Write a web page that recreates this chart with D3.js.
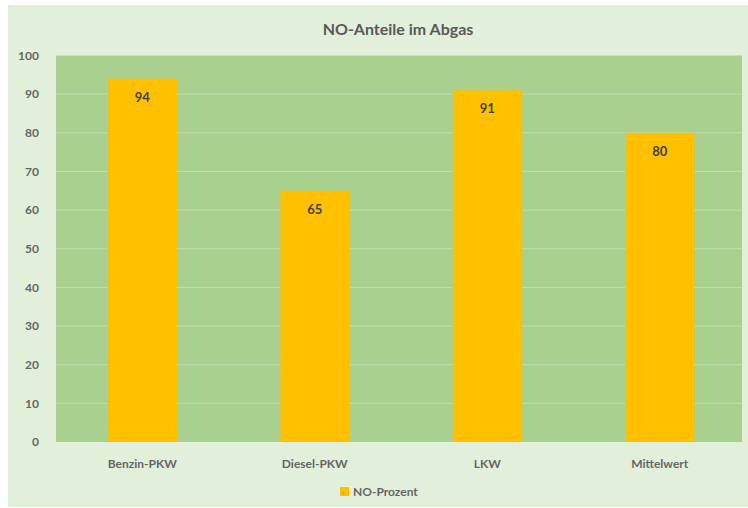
<!DOCTYPE html>
<html><head><meta charset="utf-8">
<script src="https://cdn.jsdelivr.net/npm/d3@7"></script>
<style>html,body{margin:0;padding:0;background:#fff;}svg{display:block;}</style>
</head><body><svg id="c" width="748" height="508"></svg>
<script>
const categories = ["Benzin-PKW", "Diesel-PKW", "LKW", "Mittelwert"];
const values = [94, 65, 91, 80];
const yTicks = [0, 10, 20, 30, 40, 50, 60, 70, 80, 90, 100];
const seriesName = "NO-Prozent";
const title = "NO-Anteile im Abgas";

const svg = d3.select("#c");
const font = "Lato, 'Open Sans', sans-serif";
svg.append("rect").attr("x", 8).attr("y", 5).attr("width", 740).attr("height", 502).attr("fill", "#e2efda");

const m = {l: 56, r: 746, t: 55.5, b: 442, bgR: 742};
const x = d3.scaleBand().domain(categories).range([m.l, m.r]).paddingInner(0.6).paddingOuter(0.3);
const y = d3.scaleLinear().domain([0, 100]).range([m.b, m.t]);

svg.append("rect").attr("x", m.l).attr("y", m.t).attr("width", m.bgR - m.l).attr("height", m.b - m.t).attr("fill", "#a9d08e");

svg.append("g").selectAll("line").data(yTicks.filter(d => d > 0 && d < 100)).join("line")
  .attr("x1", m.l).attr("x2", m.bgR).attr("y1", d => y(d)).attr("y2", d => y(d))
  .attr("stroke", "#c3dfae").attr("stroke-width", 1);

const yAxis = svg.append("g").attr("transform", `translate(${m.l},0)`)
  .call(d3.axisLeft(y).tickValues(yTicks).tickSize(0).tickPadding(17));
yAxis.select(".domain").remove();
yAxis.selectAll("text").attr("font-family", font).attr("font-size", 12).attr("font-weight", "bold").attr("fill", "#666");

svg.append("g").selectAll("rect").data(values).join("rect")
  .attr("x", (d, i) => x(categories[i])).attr("width", x.bandwidth())
  .attr("y", d => y(d)).attr("height", d => y(0) - y(d)).attr("fill", "#ffc000");

svg.append("g").selectAll("text").data(values).join("text")
  .attr("x", (d, i) => x(categories[i]) + x.bandwidth() / 2).attr("y", d => y(d) + 23)
  .attr("text-anchor", "middle").attr("font-family", font).attr("font-size", 13).attr("font-weight", "bold")
  .attr("fill", "#404040").text(d => d);

const xAxis = svg.append("g").attr("transform", `translate(0,${m.b})`)
  .call(d3.axisBottom(x).tickSize(0).tickPadding(17));
xAxis.select(".domain").remove();
xAxis.selectAll("text").attr("font-family", font).attr("font-size", 12).attr("font-weight", "bold").attr("fill", "#666");

svg.append("text").attr("x", 398).attr("y", 35).attr("text-anchor", "middle")
  .attr("font-family", font).attr("font-size", 16).attr("font-weight", "bold").attr("fill", "#595959").text(title);

const lg = svg.append("g").attr("transform", "translate(340,487)");
lg.append("rect").attr("x", 0).attr("y", 0).attr("width", 9).attr("height", 9).attr("fill", "#ffc000");
lg.append("text").attr("x", 13).attr("y", 9).attr("font-family", font).attr("font-size", 12).attr("font-weight", "bold").attr("fill", "#666").text(seriesName);
</script></body></html>
